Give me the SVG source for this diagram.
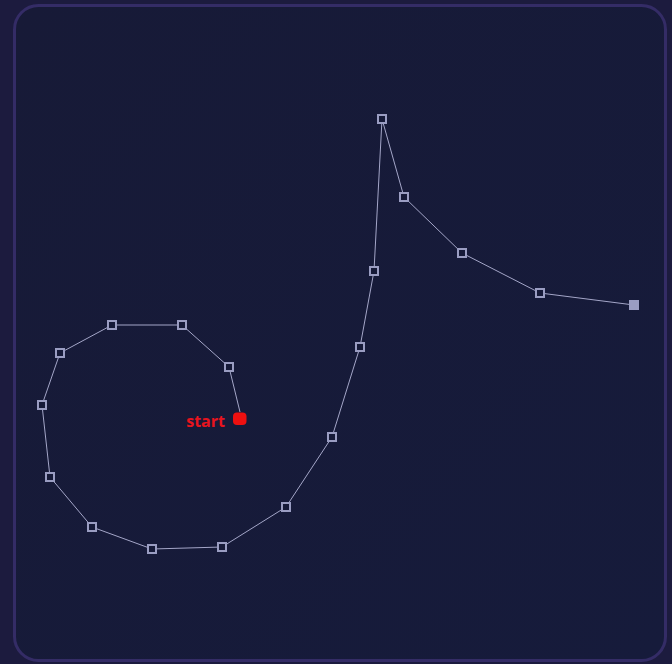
<svg xmlns="http://www.w3.org/2000/svg" width="672" height="664" viewBox="0 0 672 664">
  <defs>
    <linearGradient id="bg" x1="0" y1="0" x2="1" y2="1">
      <stop offset="0" stop-color="#171a37"/>
      <stop offset="1" stop-color="#161b3b"/>
    </linearGradient>
  </defs>
  <style>
    .pt { fill: #161a38; stroke: #9a9dc2; stroke-width: 2; }
    .end { fill: #9a9dc2; }
    .path { fill: none; stroke: #a4a6c8; stroke-width: 1; }
    .lbl { font-family: "Open Sans", "Liberation Sans", sans-serif; font-size: 16px; font-weight: 700; fill: #e8141e; }
  </style>
  <rect x="0" y="0" width="672" height="664" fill="#1c1b3e"/>
  <rect x="14.5" y="5.5" width="651" height="655" rx="24" fill="url(#bg)" stroke="#342c66" stroke-width="3"/>
  <g id="connectors">
    <polyline class="path" points="240,412 229,367 182,325 112,325 60,353 42,405 50,477 92,527 152,549 222,547 286,507 332,437 360,347 374,271 382,119 404,197 462,253 540,293 634,305"/>
  </g>
  <g id="start">
    <rect x="233" y="412.5" width="13.5" height="12.5" rx="4" fill="#ee1010"/>
    <text class="lbl" x="225" y="427" text-anchor="end">start</text>
  </g>
  <g id="p1"><rect class="pt" x="225" y="363" width="8" height="8"/></g>
  <g id="p2"><rect class="pt" x="178" y="321" width="8" height="8"/></g>
  <g id="p3"><rect class="pt" x="108" y="321" width="8" height="8"/></g>
  <g id="p4"><rect class="pt" x="56" y="349" width="8" height="8"/></g>
  <g id="p5"><rect class="pt" x="38" y="401" width="8" height="8"/></g>
  <g id="p6"><rect class="pt" x="46" y="473" width="8" height="8"/></g>
  <g id="p7"><rect class="pt" x="88" y="523" width="8" height="8"/></g>
  <g id="p8"><rect class="pt" x="148" y="545" width="8" height="8"/></g>
  <g id="p9"><rect class="pt" x="218" y="543" width="8" height="8"/></g>
  <g id="p10"><rect class="pt" x="282" y="503" width="8" height="8"/></g>
  <g id="p11"><rect class="pt" x="328" y="433" width="8" height="8"/></g>
  <g id="p12"><rect class="pt" x="356" y="343" width="8" height="8"/></g>
  <g id="p13"><rect class="pt" x="370" y="267" width="8" height="8"/></g>
  <g id="p14"><rect class="pt" x="378" y="115" width="8" height="8"/></g>
  <g id="p15"><rect class="pt" x="400" y="193" width="8" height="8"/></g>
  <g id="p16"><rect class="pt" x="458" y="249" width="8" height="8"/></g>
  <g id="p17"><rect class="pt" x="536" y="289" width="8" height="8"/></g>
  <g id="end"><rect class="end" x="629" y="300" width="10" height="10"/></g>
</svg>
